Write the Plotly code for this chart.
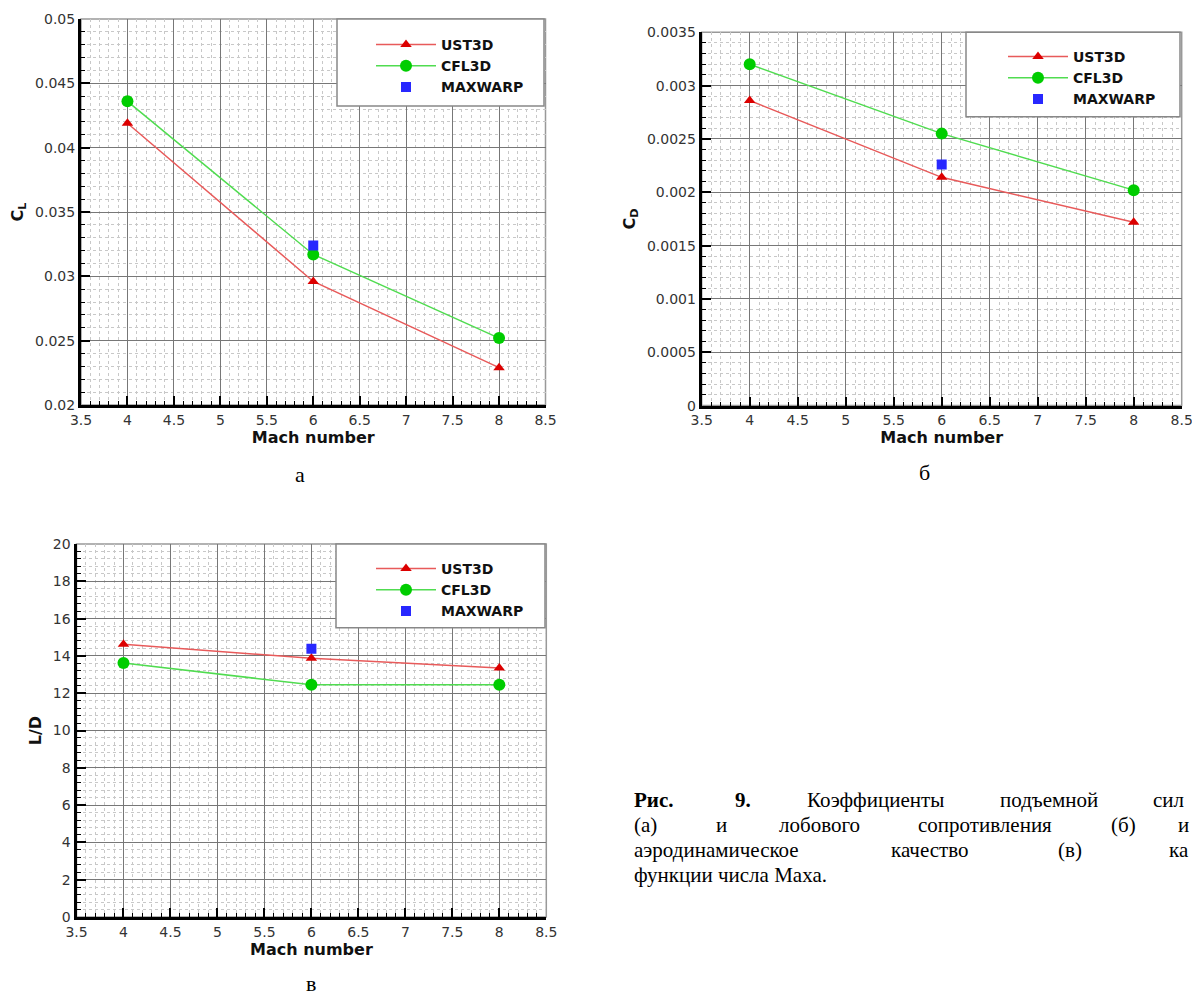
import plotly.graph_objects as go

# ---------------- data ----------------
mach = [4, 6, 8]
mach_maxwarp = [6]

cl_ust3d = [0.0419, 0.0296, 0.0229]
cl_cfl3d = [0.0436, 0.0317, 0.0252]
cl_maxwarp = [0.0324]

cd_ust3d = [0.00286, 0.00214, 0.00172]
cd_cfl3d = [0.00320, 0.00255, 0.00202]
cd_maxwarp = [0.00226]

ld_ust3d = [14.63, 13.87, 13.35]
ld_cfl3d = [13.62, 12.45, 12.45]
ld_maxwarp = [14.38]

series_names = ["UST3D", "CFL3D", "MAXWARP"]
x_label = "Mach number"
y_labels = ["C<sub>L</sub>", "C<sub>D</sub>", "L/D"]
panel_letters = ["а", "б", "в"]
# caption as visible in the reference (the right side is cut by the page edge)
caption_lines = [
    ["<b>Рис.</b>", "<b>9.</b>", "Коэффициенты", "подъемной", "сил"],
    ["(а)", "и", "лобового", "сопротивления", "(б)", "и"],
    ["аэродинамическое", "качество", "(в)", "ка"],
    ["функции числа Маха."],
]

W, H = 1192, 996
def px(x):
    return x / W
def py(y):
    return 1 - y / H

SANS = "DejaVu Sans"
SERIF = "Liberation Serif"
RED_LINE = "rgb(232,90,90)"
RED_MK = "rgb(220,0,0)"
GREEN_LINE = "rgb(80,220,80)"
GREEN_MK = "rgb(0,205,0)"
BLUE_MK = "rgb(40,40,255)"

fig = go.Figure()

panels = [
    dict(ust=cl_ust3d, cfl=cl_cfl3d, mw=cl_maxwarp, xs="x", ys="y", leg="legend"),
    dict(ust=cd_ust3d, cfl=cd_cfl3d, mw=cd_maxwarp, xs="x2", ys="y2", leg="legend2"),
    dict(ust=ld_ust3d, cfl=ld_cfl3d, mw=ld_maxwarp, xs="x3", ys="y3", leg="legend3"),
]
for p in panels:
    fig.add_trace(go.Scatter(x=mach, y=p["ust"], name=series_names[0], mode="lines+markers",
                             xaxis=p["xs"], yaxis=p["ys"], legend=p["leg"],
                             line=dict(color=RED_LINE, width=1.5),
                             marker=dict(symbol="triangle-up", size=10, color=RED_MK)))
    fig.add_trace(go.Scatter(x=mach, y=p["cfl"], name=series_names[1], mode="lines+markers",
                             xaxis=p["xs"], yaxis=p["ys"], legend=p["leg"],
                             line=dict(color=GREEN_LINE, width=1.5),
                             marker=dict(symbol="circle", size=12, color=GREEN_MK)))
    fig.add_trace(go.Scatter(x=mach_maxwarp, y=p["mw"], name=series_names[2], mode="markers",
                             xaxis=p["xs"], yaxis=p["ys"], legend=p["leg"],
                             marker=dict(symbol="square", size=10, color=BLUE_MK)))


def xaxis(domain, anchor):
    return dict(
        domain=domain, anchor=anchor, range=[3.5, 8.5], tickmode="linear", tick0=3.5, dtick=0.5,
        automargin=False,
        ticks="inside", ticklen=9, tickwidth=2, tickcolor="black",
        showline=True, linecolor="black", linewidth=3, zeroline=False,
        showgrid=True, gridcolor="#777", gridwidth=1, ticklabeloverflow="allow",
        minor=dict(dtick=0.1, ticks="inside", ticklen=4, tickwidth=1, tickcolor="black",
                   showgrid=True, gridcolor="#c8c8c8", griddash="dot", gridwidth=1),
        tickfont=dict(family=SANS, size=14, color="#333"),
        title=dict(text=x_label, font=dict(family=SANS, size=16, color="#111", weight="bold"), standoff=0),
    )


def yaxis(domain, anchor, rng, dtick, minor, title):
    return dict(
        domain=domain, anchor=anchor, range=rng, tickmode="linear", tick0=rng[0], dtick=dtick,
        automargin=False,
        ticks="inside", ticklen=9, tickwidth=2, tickcolor="black",
        showline=True, linecolor="black", linewidth=3, zeroline=False,
        showgrid=True, gridcolor="#777", gridwidth=1, ticklabeloverflow="allow",
        minor=dict(dtick=minor, ticks="inside", ticklen=4, tickwidth=1, tickcolor="black",
                   showgrid=True, gridcolor="#c8c8c8", griddash="dot", gridwidth=1),
        tickfont=dict(family=SANS, size=14, color="#333"),
        title=dict(text=title, font=dict(family=SANS, size=16, color="#111", weight="bold"), standoff=8),
    )


dom_a_x = [px(81), px(545.5)]
dom_a_y = [py(405), py(19)]
dom_b_x = [px(701.7), px(1181.7)]
dom_b_y = [py(405.6), py(32.3)]
dom_c_x = [px(76.5), px(546.3)]
dom_c_y = [py(917), py(544)]

legend_common = dict(bgcolor="rgba(0,0,0,0)", borderwidth=0, xanchor="left", yanchor="top",
                     font=dict(family=SANS, size=14, color="#111", weight="bold"), itemwidth=60,
                     tracegroupgap=0)

fig.update_layout(
    width=W, height=H, autosize=False,
    margin=dict(l=0, r=0, t=0, b=0, autoexpand=False),
    paper_bgcolor="white", plot_bgcolor="white",
    xaxis=xaxis(dom_a_x, "y"),
    yaxis=yaxis(dom_a_y, "x", [0.02, 0.05], 0.005, 0.001, y_labels[0]),
    xaxis2=xaxis(dom_b_x, "y2"),
    yaxis2=yaxis(dom_b_y, "x2", [0, 0.0035], 0.0005, 0.0001, y_labels[1]),
    xaxis3=xaxis(dom_c_x, "y3"),
    yaxis3=yaxis(dom_c_y, "x3", [0, 20], 2, 0.4, y_labels[2]),
    legend=dict(x=px(371), y=py(29), **legend_common),
    legend2=dict(x=px(1003), y=py(41), **legend_common),
    legend3=dict(x=px(371), y=py(553), **legend_common),
    showlegend=True,
)

# legend boxes and plot frames
shapes = []
for xr, yr in [("x", "y"), ("x2", "y2"), ("x3", "y3")]:
    shapes.append(dict(type="rect", xref=xr + " domain", yref=yr + " domain", x0=0, x1=1, y0=0, y1=1,
                       line=dict(color="#999", width=1.5), layer="below"))
for (x0, x1, y0, y1) in [(337, 544, 19, 106), (966, 1180, 32.3, 116.7), (336, 545, 544, 627.7)]:
    shapes.append(dict(type="rect", xref="paper", yref="paper", x0=px(x0), x1=px(x1),
                       y0=py(y1), y1=py(y0), line=dict(color="#888", width=1.5),
                       fillcolor="white", layer="above"))
fig.update_layout(shapes=shapes)

# panel letters
annotations = []
for letter, (lx, ly) in zip(panel_letters, [(300, 475), (925, 472), (311, 983)]):
    annotations.append(dict(text=letter, x=px(lx), y=py(ly), xref="paper", yref="paper",
                            showarrow=False, xanchor="center", yanchor="middle",
                            font=dict(family=SERIF, size=22, color="black")))

# caption words, justified across the column
word_x = [
    [633, 734, 806, 999, 1152],
    [633, 715, 778, 917, 1110, 1177],
    [633, 890, 1057, 1168],
    [633],
]
line_y = [800, 825, 850, 875]
for words, xs, yv in zip(caption_lines, word_x, line_y):
    for w, xv in zip(words, xs):
        annotations.append(dict(text=w, x=px(xv), y=py(yv), xref="paper", yref="paper",
                                showarrow=False, xanchor="left", yanchor="middle", borderpad=0,
                                font=dict(family=SERIF, size=21, color="black")))
fig.update_layout(annotations=annotations)

fig.write_html("out.html")
